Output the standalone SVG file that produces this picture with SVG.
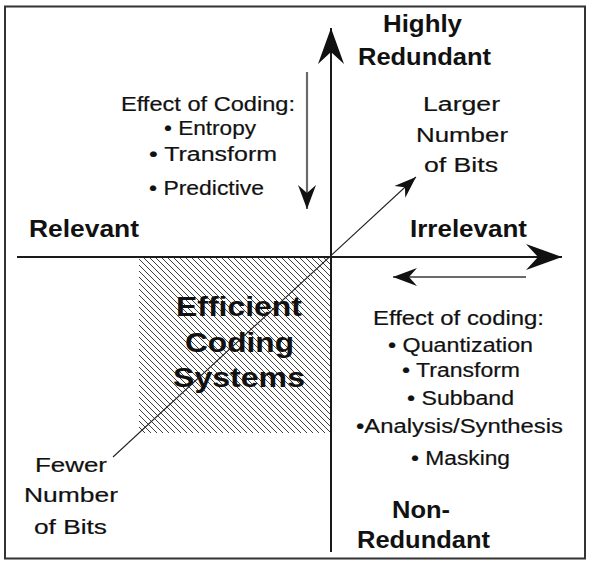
<svg xmlns="http://www.w3.org/2000/svg" width="590" height="564" viewBox="0 0 590 564">
  <style>
    .t { font-family: "Liberation Sans", Arial, sans-serif; font-size: 20px; fill: #111; stroke: #111; stroke-width: 0.2; }
    .b { font-family: "Liberation Sans", Arial, sans-serif; font-size: 23px; font-weight: bold; fill: #111; }
    .big { font-family: "Liberation Sans", Arial, sans-serif; font-size: 27px; font-weight: bold; fill: #111; }
    .axis { stroke: #1a1a1a; stroke-width: 2; fill: none; }
    .effect { stroke: #6a6a6a; stroke-width: 2.2; fill: none; }
    .diag { stroke: #222; stroke-width: 1.1; fill: none; }
  </style>
  <defs>
    <pattern id="hatch" patternUnits="userSpaceOnUse" width="6" height="6">
      <path d="M-1,-1 L7,7 M-1,5 L1,7 M5,-1 L7,1" stroke="#2a2a2a" stroke-width="0.9"/>
    </pattern>
    <marker id="bigHead" viewBox="-37 -14 38 28" refX="0" refY="0" markerWidth="38" markerHeight="28" markerUnits="userSpaceOnUse" orient="auto">
      <path d="M0,0 L-36,-13 L-24,0 L-36,13 Z" fill="#111"/>
    </marker>
    <marker id="midHead" viewBox="-25 -10 26 20" refX="0" refY="0" markerWidth="26" markerHeight="20" markerUnits="userSpaceOnUse" orient="auto">
      <path d="M0,0 L-24,-9 L-16,0 L-24,9 Z" fill="#111"/>
    </marker>
    <marker id="smallHead" viewBox="-23 -9 24 18" refX="0" refY="0" markerWidth="24" markerHeight="18" markerUnits="userSpaceOnUse" orient="auto">
      <path d="M0,0 L-22,-8 L-15,0 L-22,8 Z" fill="#111"/>
    </marker>
  </defs>

  <rect x="0" y="0" width="590" height="564" fill="#fff"/>
  <rect id="frame" x="5" y="6.5" width="580" height="552" fill="none" stroke="#333" stroke-width="2"/>

  <g id="efficient-region">
    <rect x="139" y="258" width="192" height="175" fill="url(#hatch)"/>
    <text class="big" x="176" y="316" textLength="126" lengthAdjust="spacingAndGlyphs">Efficient</text>
    <text class="big" x="185" y="352" textLength="109" lengthAdjust="spacingAndGlyphs">Coding</text>
    <text class="big" x="173" y="387" textLength="132" lengthAdjust="spacingAndGlyphs">Systems</text>
  </g>

  <g id="highly-redundant">
    <text class="b" x="383" y="32" textLength="79" lengthAdjust="spacingAndGlyphs">Highly</text>
    <text class="b" x="358" y="65" textLength="133" lengthAdjust="spacingAndGlyphs">Redundant</text>
  </g>

  <g id="non-redundant">
    <text class="b" x="392" y="518" textLength="58" lengthAdjust="spacingAndGlyphs">Non-</text>
    <text class="b" x="357" y="548" textLength="133" lengthAdjust="spacingAndGlyphs">Redundant</text>
  </g>

  <g id="relevant">
    <text class="b" x="29" y="237" textLength="110" lengthAdjust="spacingAndGlyphs">Relevant</text>
  </g>

  <g id="irrelevant">
    <text class="b" x="410" y="237" textLength="117" lengthAdjust="spacingAndGlyphs">Irrelevant</text>
  </g>

  <g id="effect-redundancy">
    <text class="t" x="121" y="111" textLength="174" lengthAdjust="spacingAndGlyphs">Effect of Coding:</text>
    <text class="t" x="164" y="135" textLength="92" lengthAdjust="spacingAndGlyphs">• Entropy</text>
    <text class="t" x="149" y="161" textLength="128" lengthAdjust="spacingAndGlyphs">• Transform</text>
    <text class="t" x="149" y="195" textLength="115" lengthAdjust="spacingAndGlyphs">• Predictive</text>
  </g>

  <g id="effect-irrelevancy">
    <text class="t" x="373" y="325" textLength="171" lengthAdjust="spacingAndGlyphs">Effect of coding:</text>
    <text class="t" x="388" y="352" textLength="145" lengthAdjust="spacingAndGlyphs">• Quantization</text>
    <text class="t" x="402" y="377" textLength="118" lengthAdjust="spacingAndGlyphs">• Transform</text>
    <text class="t" x="407" y="405" textLength="107" lengthAdjust="spacingAndGlyphs">• Subband</text>
    <text class="t" x="356" y="433" textLength="207" lengthAdjust="spacingAndGlyphs">•Analysis/Synthesis</text>
    <text class="t" x="411" y="465" textLength="99" lengthAdjust="spacingAndGlyphs">• Masking</text>
  </g>

  <g id="larger-bits">
    <text class="t" x="423" y="111" textLength="77" lengthAdjust="spacingAndGlyphs">Larger</text>
    <text class="t" x="416" y="142" textLength="92" lengthAdjust="spacingAndGlyphs">Number</text>
    <text class="t" x="424" y="172" textLength="74" lengthAdjust="spacingAndGlyphs">of Bits</text>
  </g>

  <g id="fewer-bits">
    <text class="t" x="35" y="472" textLength="72" lengthAdjust="spacingAndGlyphs">Fewer</text>
    <text class="t" x="24" y="502" textLength="94" lengthAdjust="spacingAndGlyphs">Number</text>
    <text class="t" x="34" y="534" textLength="73" lengthAdjust="spacingAndGlyphs">of Bits</text>
  </g>

  <g id="connectors">
    <line class="axis" x1="331" y1="552" x2="331" y2="28" marker-end="url(#bigHead)"/>
    <line class="axis" x1="17" y1="257" x2="562" y2="257" marker-end="url(#bigHead)"/>
    <line class="effect" x1="307" y1="72" x2="307" y2="209" marker-end="url(#midHead)"/>
    <line class="effect" x1="526" y1="277" x2="393" y2="277" marker-end="url(#midHead)"/>
    <line class="diag" x1="113" y1="457" x2="416" y2="177" marker-end="url(#smallHead)"/>
  </g>
</svg>
